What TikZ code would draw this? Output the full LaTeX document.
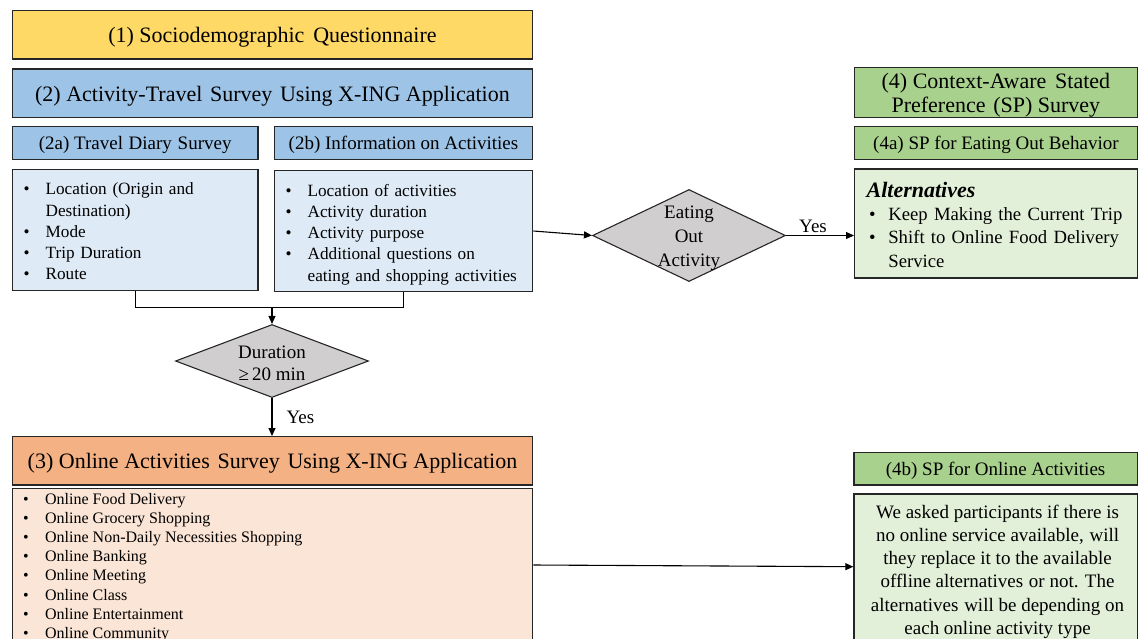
\documentclass[tikz,border=0pt]{standalone}
\usepackage{fontspec}
\setmainfont{Liberation Serif}
\usetikzlibrary{arrows.meta,shapes.geometric,calc}
\definecolor{cYel}{HTML}{FFD966}
\definecolor{cBlue}{HTML}{9DC3E6}
\definecolor{cBlueL}{HTML}{DEEBF7}
\definecolor{cOr}{HTML}{F4B183}
\definecolor{cOrL}{HTML}{FBE5D6}
\definecolor{cGr}{HTML}{A9D18E}
\definecolor{cGrL}{HTML}{E2F0D9}
\definecolor{cGray}{HTML}{D0CECE}
\definecolor{cLine}{HTML}{262626}
\newcommand{\Fbig}{\fontsize{22}{23.3}\selectfont}
\newcommand{\Fmid}{\fontsize{19}{23.2}\selectfont}
\newcommand{\Flist}{\fontsize{17.2}{21.2}\selectfont}
\newcommand{\Fsmall}{\fontsize{16}{19.14}\selectfont}
\newcommand{\dn}[2]{\raisebox{-#1}[\height][\depth]{#2}}
\begin{document}
\begin{tikzpicture}[x=1pt,y=-1pt,
  box/.style={draw=cLine, line width=1.3pt, anchor=north west, inner sep=0pt, align=center},
  listbox/.style={box, inner xsep=11.3pt, inner ysep=0pt, align=left},
  txt/.style={inner sep=0pt, align=left},
  link/.style={draw=black, line width=1.1pt},
  arr/.style={link, -{Triangle[length=8pt,width=7pt]}},
  dia/.style={diamond, draw=cLine, line width=1.1pt, fill=cGray, inner sep=0pt},
  lbl/.style={inner sep=0pt, font=\Fmid}]
\useasboundingbox (0,0) rectangle (1138,638);
\clip (0,0) rectangle (1138,638);

% left column
\node[box, fill=cYel, minimum width=520.3pt, minimum height=48.3pt, font=\Fbig] (q1) at (11.7,10)
  {\dn{2pt}{(1) Sociodemographic\hspace{0.4em}Questionnaire}};
\node[box, fill=cBlue, minimum width=520.3pt, minimum height=48.4pt, font=\Fbig] (q2) at (11.7,68.3)
  {\dn{3.5pt}{(2) Activity-Travel\hspace{0.35em}Survey\hspace{0.35em}Using X-ING Application}};
\node[box, fill=cBlue, minimum width=245.6pt, minimum height=33.3pt, font=\Fmid] (q2a) at (11.7,125.7)
  {\dn{2.3pt}{(2a) Travel\hspace{0.3em}Diary\hspace{0.3em}Survey}};
\node[box, fill=cBlue, minimum width=258.3pt, minimum height=33.3pt, font=\Fmid] (q2b) at (273.7,125.7)
  {\dn{2.3pt}{(2b) Information on Activities}};
\node[listbox, fill=cBlueL, text width=223pt, minimum height=121pt, font=\Flist] (l2a) at (11.7,169)
  {\dn{3pt}{\begin{tabular}{@{}p{22pt}@{}l@{}}
  •&Location (Origin and\\
  &Destination)\\
  •&Mode\\
  •&Trip Duration\\
  •&Route
  \end{tabular}}};
\node[listbox, fill=cBlueL, text width=235.7pt, minimum height=120.7pt, font=\Flist] (l2b) at (273.7,170)
  {\dn{3.5pt}{\begin{tabular}{@{}p{22pt}@{}l@{}}
  •&Location of activities\\
  •&Activity duration\\
  •&Activity purpose\\
  •&Additional questions on\\
  &eating and shopping activities
  \end{tabular}}};

\coordinate (j) at (272,307.3);
\node[dia, minimum width=193pt, minimum height=73pt] (d1) at (272,361) {};
\node[lbl, align=center, yshift=-4pt] (d1t) at (d1.center)
  {\begin{tabular}{@{}c@{}}Duration\\[-1.6pt]≥\,20 min\end{tabular}};

\node[box, fill=cOr, minimum width=520.3pt, minimum height=48.3pt, font=\Fbig] (q3) at (11.7,436)
  {\dn{2.7pt}{(3) Online Activities\hspace{0.35em}Survey\hspace{0.35em}Using X-ING Application}};
\node[box, fill=cOrL, minimum width=520.3pt, minimum height=200pt] (l3) at (11.7,487.5) {};
\node[txt, anchor=north west, font=\Fsmall] (l3t) at ([xshift=11.3pt,yshift=-3.3pt]l3.north west)
  {\begin{tabular}{@{}p{22pt}@{}l@{}}
  •&Online Food Delivery\\
  •&Online Grocery Shopping\\
  •&Online Non-Daily Necessities Shopping\\
  •&Online Banking\\
  •&Online Meeting\\
  •&Online Class\\
  •&Online Entertainment\\
  •&Online Community
  \end{tabular}};

% middle decision
\node[dia, minimum width=193pt, minimum height=92pt] (d2) at (689,235.5) {};
\node[lbl, align=center, yshift=-2.5pt] (d2t) at (d2.center)
  {\fontsize{19}{24}\selectfont\begin{tabular}{@{}c@{}}Eating\\Out\\Activity\end{tabular}};

% right column
\node[box, fill=cGr, minimum width=282.5pt, minimum height=50pt, font=\Fbig] (q4) at (854,66.7)
  {\dn{3.5pt}{\begin{tabular}{@{}c@{}}(4) Context-Aware\hspace{0.4em}Stated\\Preference\hspace{0.35em}(SP) Survey\end{tabular}}};
\node[box, fill=cGr, minimum width=282.5pt, minimum height=33pt, font=\Fmid] (q4a) at (854,126)
  {\dn{2pt}{(4a) SP for Eating Out Behavior}};
\node[listbox, fill=cGrL, inner xsep=12pt, text width=258.5pt, minimum height=109pt, font=\fontsize{18.7}{23.3}\selectfont] (alt) at (854,168.3)
  {\dn{4pt}{\begin{tabular}{@{}p{21.7pt}@{}l@{}}
  \multicolumn{2}{@{}l@{}}{\fontsize{22}{23.3}\selectfont\bfseries\itshape Alternatives}\\
  \hspace{2.5pt}•&Keep Making the Current Trip\\
  \hspace{2.5pt}•&Shift to Online Food Delivery\\
  &Service
  \end{tabular}}};
\node[box, fill=cGr, minimum width=283.2pt, minimum height=32.6pt, font=\Fmid] (q4b) at (853.3,451.7)
  {\dn{2pt}{(4b) SP for Online Activities}};
\node[box, fill=cGrL, minimum width=283.2pt, minimum height=200pt] (t4b) at (853.3,493.3) {};
\node[txt, anchor=north, font=\Fmid, align=center] (t4bt) at ([xshift=2pt,yshift=-8.5pt]t4b.north)
  {\begin{tabular}{@{}c@{}}
  We asked participants if there is\\
  no online service available,\hspace{0.3em}will\\
  they replace it to the available\\
  offline alternatives\hspace{0.3em}or not. The\\
  alternatives\hspace{0.3em}will be depending on\\
  each online activity type
  \end{tabular}};

% connectors
\draw[link] (l2a.south) -- (l2a.south |- j) -- (l2b.south |- j) -- (l2b.south);
\draw[arr] (j) -- (d1.north);
\draw[arr] (d1.south) -- node[lbl, anchor=west, xshift=14pt] (y1) {Yes} (q3.north -| d1.south);
\draw[arr] (l2b.east) -- (d2.west);
\draw[arr] (d2.east) -- node[lbl, anchor=south, xshift=-7pt, yshift=2.5pt] (y2) {Yes} (d2.east -| alt.west);
\draw[arr] ([yshift=-77.5pt]l3.north east) -- ([yshift=-73.4pt]t4b.north west);
\end{tikzpicture}
\end{document}
